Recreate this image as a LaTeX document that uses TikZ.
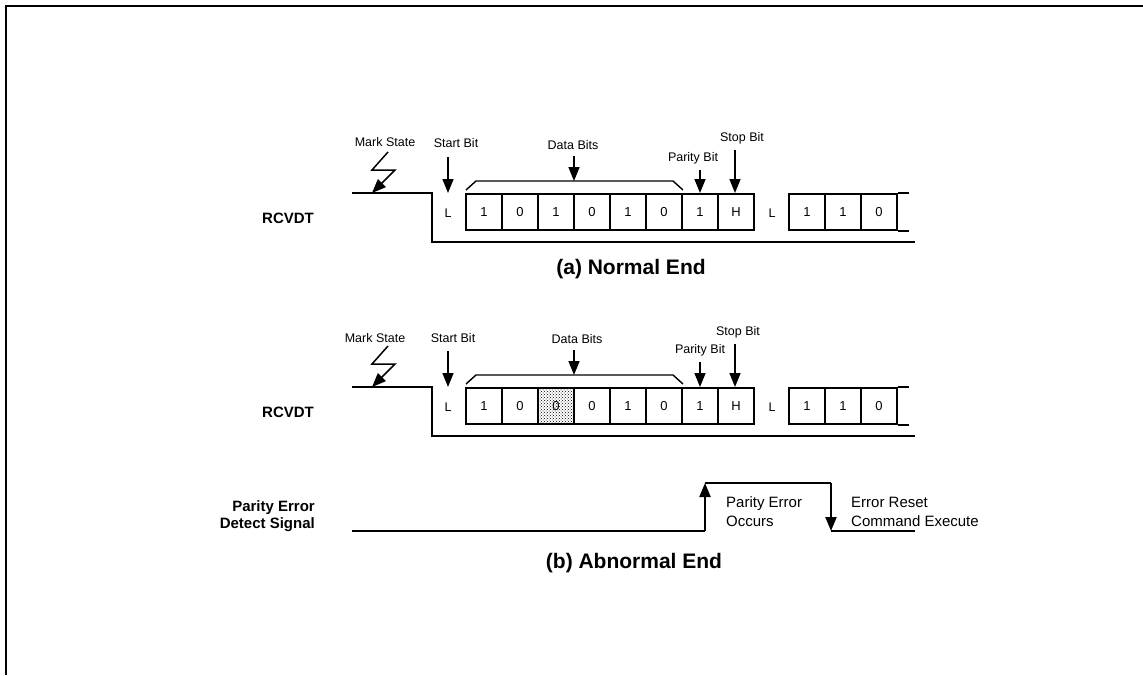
\documentclass[tikz,border=0pt]{standalone}
\usepackage{fontspec}
\setmainfont{Liberation Sans}
\usetikzlibrary{arrows.meta, patterns}

\begin{document}
\begin{tikzpicture}[x=1pt, y=-1pt,
    lbl/.style={font=\fontsize{12.5}{14}\selectfont, inner sep=0pt},
    sig/.style={font=\fontsize{15}{17}\selectfont\bfseries, inner sep=0pt, align=right},
    capt/.style={font=\fontsize{21}{24}\selectfont\bfseries, inner sep=0pt},
    note/.style={font=\fontsize{15}{19}\selectfont, inner sep=0pt, align=left, anchor=west},
    bitbox/.style={draw, line width=1.6pt, minimum width=36pt, minimum height=36pt, inner sep=0pt,
                   font=\fontsize{13}{14}\selectfont},
    wave/.style={line width=2.2pt},
    arr/.style={-{Triangle[length=14pt, width=11pt]}, line width=1.6pt}]
  \useasboundingbox (0,0) rectangle (1143,675);
  % frame
  \draw[line width=2.2pt] (1143,6) -- (6,6) -- (6,675);

  % (a) normal end
  \node[sig] (ra) at (288,218) {RCVDT};
  \draw[wave] (352,193) -| (432,242) -- (915,242);
  \node[lbl] (la0) at (448,213) {L};
  \foreach \v [count=\i] in {1,0,1,0,1,0,1,H}
    \node[bitbox] (a\i) at (448+36*\i,212) {\v};
  \node[lbl] (la1) at (772,213) {L};
  \foreach \v [count=\i] in {1,1,0}
    \node[bitbox] (an\i) at (771+36*\i,212) {\v};
  \draw[line width=1.6pt] (an3.north east) -- ++(11,0) (an3.south east) -- ++(11,0);
  \draw[line width=1.4pt] (466,190) -- (476,181) -- (673,181) -- (683,190);
  \node[lbl] (ams) at (385,142) {Mark State};
  \node[lbl] (ast) at (456,143) {Start Bit};
  \node[lbl] (adb) at (573,145) {Data Bits};
  \node[lbl] (apb) at (693,158) {Parity Bit};
  \node[lbl] (asb) at (742,138) {Stop Bit};
  \draw[arr, line width=1.5pt] (388,152) -- (372,170) -- (395,170) -- (372,193);
  \draw[arr] (448,157) -- (448,193);
  \draw[arr] (574,156) -- (574,181);
  \draw[arr] (700,170) -- (700,193);
  \draw[arr] (735,150) -- (735,193);
  \node[capt] (capa) at (631,269) {(a) Normal End};

  % (b) abnormal end
  \begin{scope}[yshift=-194pt]
    \node[sig] (rb) at (288,218) {RCVDT};
    \draw[wave] (352,193) -| (432,242) -- (915,242);
    \node[lbl] (lb0) at (448,213) {L};
    \foreach \v [count=\i] in {1,0,0,0,1,0,1,H}
      \node[bitbox] (b\i) at (448+36*\i,212) {};
    \node[bitbox, pattern=crosshatch dots, pattern color=black] at (b3) {};
    \foreach \v [count=\i] in {1,0,0,0,1,0,1,H}
      \node[font=\fontsize{13}{14}\selectfont, inner sep=0pt] at (b\i) {\v};
    \node[lbl] (lb1) at (772,213) {L};
    \foreach \v [count=\i] in {1,1,0}
      \node[bitbox] (bn\i) at (771+36*\i,212) {\v};
    \draw[line width=1.6pt] (bn3.north east) -- ++(11,0) (bn3.south east) -- ++(11,0);
    \draw[line width=1.4pt] (466,190) -- (476,181) -- (673,181) -- (683,190);
    \node[lbl] (bms) at (375,144) {Mark State};
    \node[lbl] (bst) at (453,144) {Start Bit};
    \node[lbl] (bdb) at (577,145) {Data Bits};
    \node[lbl] (bpb) at (700,156) {Parity Bit};
    \node[lbl] (bsb) at (738,138) {Stop Bit};
    \draw[arr, line width=1.5pt] (388,152) -- (372,170) -- (395,170) -- (372,193);
    \draw[arr] (448,157) -- (448,193);
    \draw[arr] (574,156) -- (574,181);
    \draw[arr] (700,168) -- (700,193);
    \draw[arr] (735,150) -- (735,193);
  \end{scope}

  % parity error detect signal
  \node[sig, anchor=east] (pe) at (315,516) {Parity Error\\Detect Signal};
  \draw[wave] (352,531) -- (705,531);
  \draw[wave] (705,483) -- (831,483);
  \draw[wave] (831,531) -- (915,531);
  \draw[arr, line width=2.2pt] (705,531) -- (705,483);
  \draw[arr, line width=2.2pt] (831,483) -- (831,531);
  \node[note] (occ) at (726,512) {Parity Error\\Occurs};
  \node[note] (rst) at (851,512) {Error Reset\\Command Execute};
  \node[capt] (capb) at (634,563) {(b) Abnormal End};
\end{tikzpicture}
\end{document}
